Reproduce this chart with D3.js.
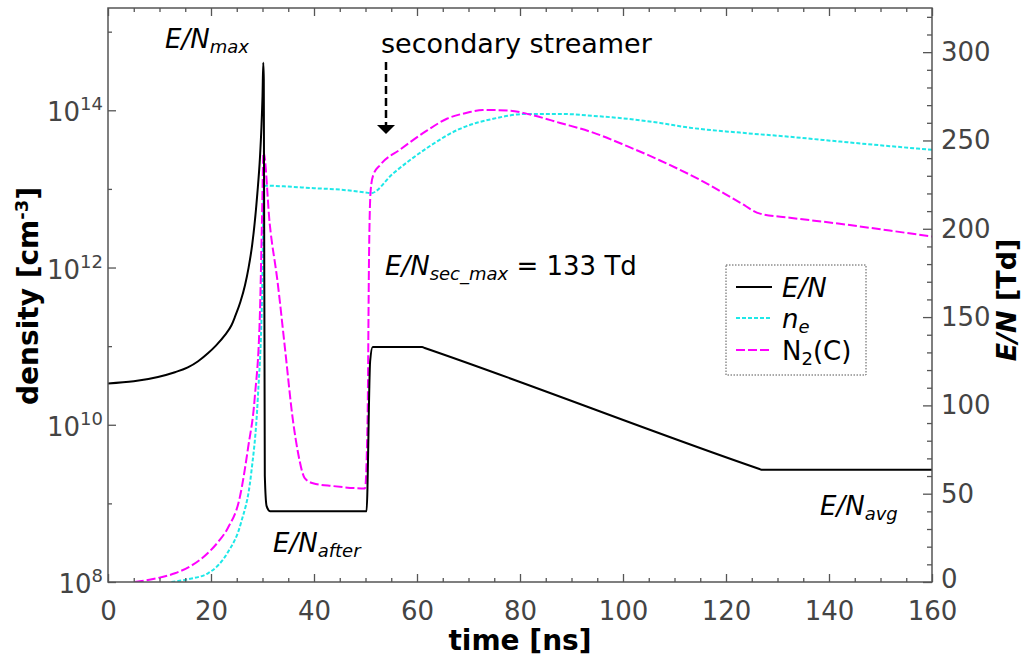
<!DOCTYPE html>
<html><head><meta charset="utf-8">
<script src="https://cdn.jsdelivr.net/npm/d3@7"></script>
<style>
body{margin:0;background:#fff;}
text{font-family:"DejaVu Sans",sans-serif;}
</style></head>
<body><svg id="c" width="1024" height="660"></svg>
<script>
// ---- data ----
const enTime   = [0, 5, 9.7, 13, 15.5, 17.5, 19.4, 21, 22.7, 24, 24.7, 25.7, 26.6, 27.3, 28, 29, 29.5, 29.8, 30.0, 30.15, 30.25, 30.45, 30.8, 31.5, 50.2, 50.9, 51.4, 61, 61.5, 126.5, 127, 160];
const enValues = [112.4, 113.6, 116.1, 118.8, 121.5, 125, 129.5, 134, 139.8, 145.5, 150.5, 158.5, 168, 178, 191, 220, 240, 258, 275, 294, 285, 60, 43, 40, 40, 125, 133, 133, 132.5, 64.0, 63.5, 63.5];

const neTime   = [12.3, 16, 19.4, 21.5, 23.3, 25.8, 27.8, 29.1, 29.9, 30.3, 35, 40, 45, 50.5, 51.0, 55.3, 61.9, 68.3, 74.8, 81.4, 87.8, 94.2, 100.8, 107.2, 113.0, 122.7, 132.4, 142.1, 151.8, 160];
const neValues = [1.0e8, 1.1e8, 1.29e8, 1.66e8, 2.4e8, 5.6e8, 2.4e9, 2.24e10, 4e11, 1.1e13, 1.07e13, 1.02e13, 9.8e12, 8.9e12, 8.8e12, 1.56e13, 3.3e13, 5.8e13, 7.8e13, 9.0e13, 9.0e13, 8.5e13, 7.8e13, 6.9e13, 6.0e13, 5.2e13, 4.6e13, 4.0e13, 3.5e13, 3.15e13];

const n2cTime   = [5.2, 9, 13, 16.5, 19.4, 21.5, 23.3, 25.6, 27.2, 28.5, 29.5, 29.9, 30.2, 31.4, 32.9, 34.4, 35.9, 36.9, 38.2, 39.8, 43.7, 49.9, 50.4, 50.7, 51.0, 51.5, 52.8, 56.7, 61.9, 65.8, 69.7, 72.8, 78.1, 81.4, 87.8, 94.2, 100.8, 107.2, 116.3, 122.7, 126.6, 132.4, 142.1, 151.8, 160];
const n2cValues = [1.0e8, 1.1e8, 1.29e8, 1.66e8, 2.34e8, 3.3e8, 4.9e8, 1.2e9, 5.1e9, 2.24e10, 2.6e11, 4e12, 2.95e13, 3.6e12, 6.8e11, 8.9e10, 1.15e10, 4.4e9, 2.1e9, 1.8e9, 1.66e9, 1.55e9, 1.15e10, 1.66e12, 9.5e12, 1.5e13, 2.0e13, 3.16e13, 5.5e13, 7.8e13, 9.3e13, 1.01e14, 9.9e13, 9.0e13, 6.9e13, 5.2e13, 3.5e13, 2.3e13, 1.17e13, 6.7e12, 4.85e12, 4.3e12, 3.6e12, 2.95e12, 2.48e12];

const xTicks = [0, 20, 40, 60, 80, 100, 120, 140, 160];
const leftTickExp = [8, 10, 12, 14];
const rightTicks = [0, 50, 100, 150, 200, 250, 300];

// ---- layout ----
const svg = d3.select("#c");
const L = 108, R = 932, T = 8, B = 582;
const x = d3.scaleLinear().domain([0, 160]).range([L, R]);
const yL = d3.scaleLog().domain([1e8, 2e15]).range([B, T]);
const yR = d3.scaleLinear().domain([0, 325]).range([B, T]);
const frame = "#555", tickTxt = "#444";
const cyan = "#1ee8e8", magenta = "#ff00ff";

svg.append("clipPath").attr("id", "clip").append("rect").attr("x", L).attr("y", T).attr("width", R - L).attr("height", B - T);
const g = svg.append("g").attr("clip-path", "url(#clip)");

const lineL = d3.line().x(d => x(d[0])).y(d => yL(d[1])).curve(d3.curveMonotoneX);
const lineR = d3.line().x(d => x(d[0])).y(d => yR(d[1])).curve(d3.curveMonotoneX);

g.append("path").datum(d3.zip(neTime, neValues)).attr("d", lineL)
  .attr("fill", "none").attr("stroke", cyan).attr("stroke-width", 2).attr("stroke-dasharray", "4,2");
g.append("path").datum(d3.zip(n2cTime, n2cValues)).attr("d", lineL)
  .attr("fill", "none").attr("stroke", magenta).attr("stroke-width", 2).attr("stroke-dasharray", "9,3");
g.append("path").datum(d3.zip(enTime, enValues)).attr("d", lineR)
  .attr("fill", "none").attr("stroke", "#000").attr("stroke-width", 2).attr("stroke-linejoin", "round");

// frame
svg.append("rect").attr("x", L).attr("y", T).attr("width", R - L).attr("height", B - T)
  .attr("fill", "none").attr("stroke", frame).attr("stroke-width", 1.5);

const minorX = d3.range(5, 160, 5).filter(v => v % 20);
const xb = svg.append("g").attr("transform", `translate(0,${B})`)
  .call(d3.axisBottom(x).tickValues(xTicks).tickSizeInner(-8).tickSizeOuter(0).tickPadding(18));
svg.append("g").attr("transform", `translate(0,${B})`)
  .call(d3.axisBottom(x).tickValues(minorX).tickSizeInner(-4).tickSizeOuter(0).tickFormat(""));
svg.append("g").attr("transform", `translate(0,${T})`)
  .call(d3.axisTop(x).tickValues(xTicks).tickSizeInner(-8).tickSizeOuter(0).tickFormat(""));
svg.append("g").attr("transform", `translate(0,${T})`)
  .call(d3.axisTop(x).tickValues(minorX).tickSizeInner(-4).tickSizeOuter(0).tickFormat(""));
xb.selectAll("text").attr("font-size", 26).attr("fill", tickTxt).attr("dy", "0.71em").attr("y", 20);

// left log axis
svg.append("g").attr("transform", `translate(${L},0)`)
  .call(d3.axisRight(yL).tickValues(leftTickExp.map(e => Math.pow(10, e))).tickSizeInner(8).tickSizeOuter(0).tickFormat(""));
svg.append("g").attr("transform", `translate(${L},0)`)
  .call(d3.axisRight(yL).tickValues([1e9, 1e11, 1e13, 1e15]).tickSizeInner(4).tickSizeOuter(0).tickFormat(""));
leftTickExp.forEach(e => {
  const t = svg.append("text").attr("x", 103).attr("y", yL(Math.pow(10, e)) + 11)
    .attr("text-anchor", "end").attr("fill", tickTxt).attr("font-size", 26);
  t.append("tspan").text("10");
  t.append("tspan").attr("dy", -11).attr("font-size", 18).text(e);
});

// right axis
svg.append("g").attr("transform", `translate(${R},0)`)
  .call(d3.axisLeft(yR).tickValues(rightTicks).tickSizeInner(9).tickSizeOuter(0).tickFormat(""));
svg.append("g").attr("transform", `translate(${R},0)`)
  .call(d3.axisLeft(yR).tickValues(d3.range(10, 330, 10).filter(v => v % 50)).tickSizeInner(5).tickSizeOuter(0).tickFormat(""));
rightTicks.forEach(v => {
  svg.append("text").attr("x", 941).attr("y", yR(v) + (v === 0 ? 6 : 9)).attr("fill", tickTxt).attr("font-size", 26).text(v);
});

svg.selectAll(".domain").remove();
svg.selectAll(".tick line").attr("stroke", frame).attr("stroke-width", 1.3);

// axis titles
svg.append("text").attr("x", 520).attr("y", 650).attr("text-anchor", "middle")
  .attr("font-size", 28).attr("font-weight", "bold").text("time [ns]");
const dl = svg.append("text").attr("transform", "translate(38,296) rotate(-90)").attr("text-anchor", "middle")
  .attr("font-size", 28).attr("font-weight", "bold");
dl.append("tspan").text("density [cm");
dl.append("tspan").attr("dy", -10).attr("font-size", 18).text("-3");
dl.append("tspan").attr("dy", 10).text("]");
const rl = svg.append("text").attr("transform", "translate(1016,300) rotate(-90)").attr("text-anchor", "middle")
  .attr("font-size", 27).attr("font-weight", "bold");
rl.append("tspan").attr("font-style", "italic").text("E/N");
rl.append("tspan").text(" [Td]");

// annotations
function sub(xp, yp, main, s, rest) {
  const t = svg.append("text").attr("x", xp).attr("y", yp).attr("font-size", 26);
  t.append("tspan").attr("font-style", "italic").text(main);
  t.append("tspan").attr("font-style", "italic").attr("font-size", 18).attr("dy", 5).text(s);
  if (rest) t.append("tspan").attr("dy", -5).text(rest);
  return t;
}
sub(165, 48, "E/N", "max");
sub(385, 275, "E/N", "sec_max", " = 133 Td");
sub(273, 552, "E/N", "after");
sub(820, 515, "E/N", "avg");
svg.append("text").attr("x", 381).attr("y", 53).attr("font-size", 27).text("secondary streamer");

// arrow
svg.append("line").attr("x1", 386).attr("x2", 386).attr("y1", 62).attr("y2", 126)
  .attr("stroke", "#000").attr("stroke-width", 2.5).attr("stroke-dasharray", "8,4");
svg.append("path").attr("d", "M377,125 L395,125 L386,134 Z").attr("fill", "#000");

// legend
const lg = svg.append("g");
lg.append("rect").attr("x", 726).attr("y", 265).attr("width", 140).attr("height", 110)
  .attr("fill", "#fff").attr("stroke", "#555").attr("stroke-width", 1).attr("stroke-dasharray", "1.5,1.5");
const legendRows = [
  {y: 287, stroke: "#000", dash: null},
  {y: 318, stroke: cyan, dash: "4,2"},
  {y: 350, stroke: magenta, dash: "9,3"}
];
legendRows.forEach((r, i) => {
  lg.append("line").attr("x1", 736).attr("x2", 772).attr("y1", r.y).attr("y2", r.y)
    .attr("stroke", r.stroke).attr("stroke-width", 2).attr("stroke-dasharray", r.dash);
  const t = lg.append("text").attr("x", 782).attr("y", r.y + 10).attr("font-size", 26);
  if (i === 0) t.append("tspan").attr("font-style", "italic").text("E/N");
  if (i === 1) { t.append("tspan").attr("font-style", "italic").text("n");
    t.append("tspan").attr("font-style", "italic").attr("font-size", 18).attr("dy", 5).text("e"); }
  if (i === 2) { t.append("tspan").text("N");
    t.append("tspan").attr("font-size", 18).attr("dy", 5).text("2");
    t.append("tspan").attr("dy", -5).text("(C)"); }
});
</script></body></html>
